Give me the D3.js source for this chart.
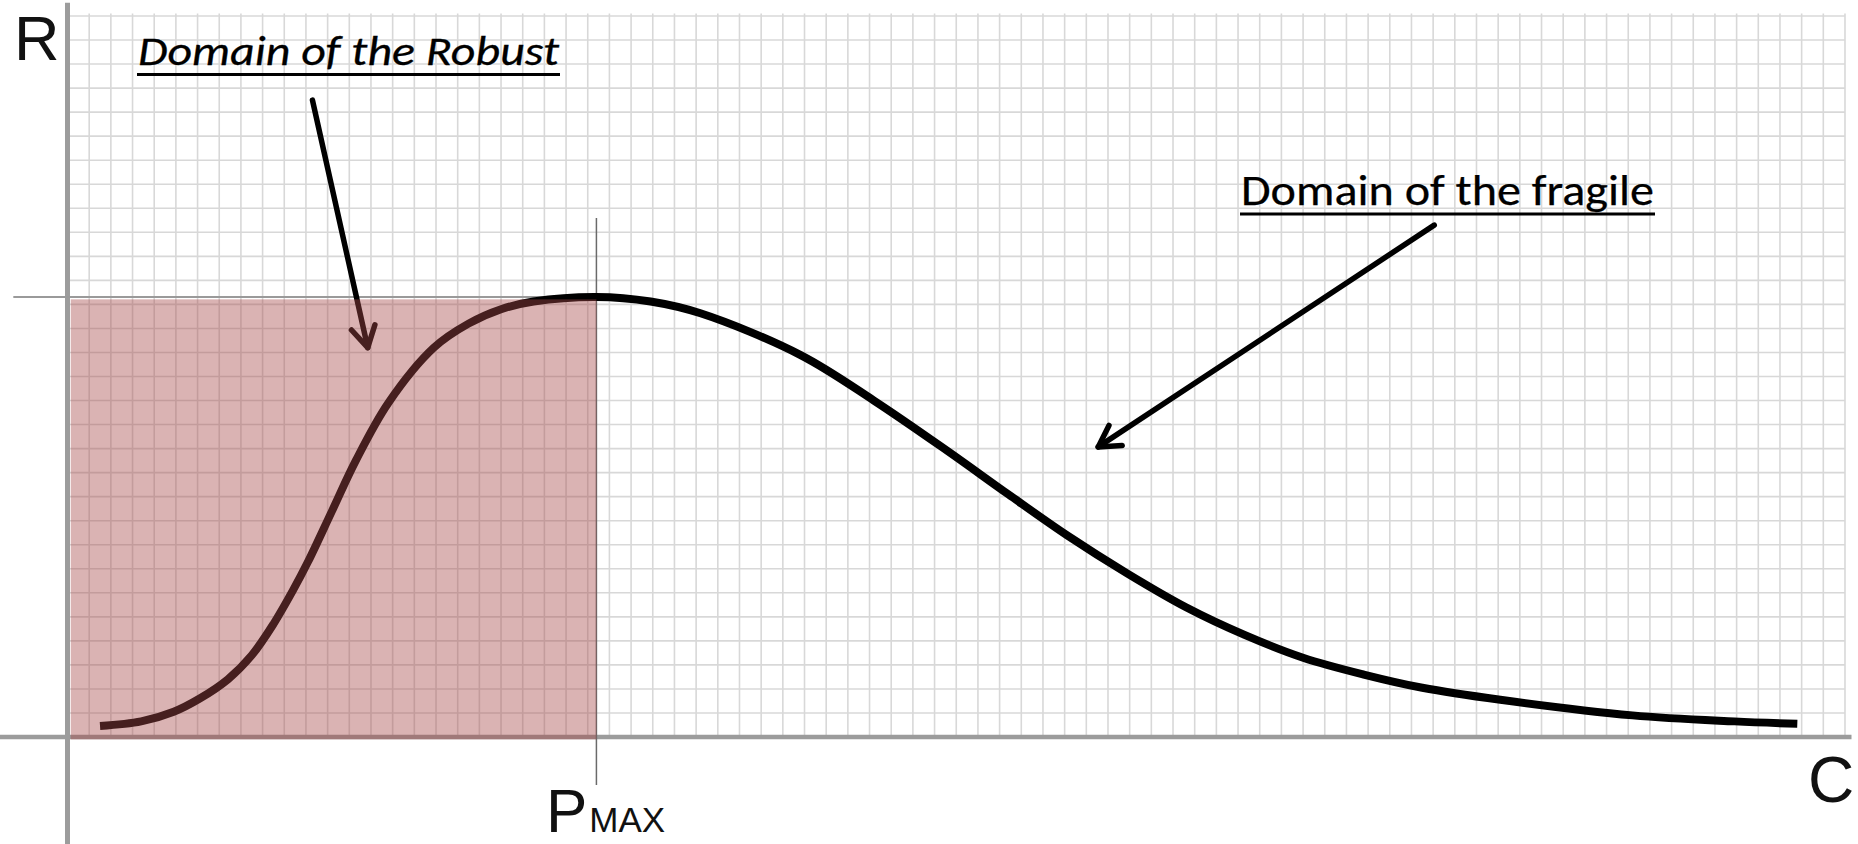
<!DOCTYPE html>
<html>
<head>
<meta charset="utf-8">
<script src="https://cdn.jsdelivr.net/npm/d3@7"></script>
<style>
  body { margin: 0; background: #fff; }
  svg { display: block; }
</style>
</head>
<body>
<script>
// curve, in grid cells (C across, R up)
var curveC = [1.5, 3.4, 4.9, 6.1, 7.4, 8.5, 9.5, 10.4, 11.1, 12.2, 13.3, 14.8, 16.9, 18.5, 20.0, 21.5, 24.4,
  26.9, 29.2, 33.8, 37.2, 40.6, 43.4, 46.1, 48.9, 51.6, 54.3, 57.0, 59.8, 62.5, 66.1, 72.2, 76.9, 79.8];
var curveR = [0.46, 0.65, 1.05, 1.6, 2.4, 3.4, 4.7, 6.1, 7.3, 9.4, 11.5, 13.9, 16.2, 17.2, 17.8, 18.12, 18.31,
  18.12, 17.63, 15.9, 14.0, 11.9, 10.1, 8.4, 6.8, 5.4, 4.25, 3.3, 2.6, 2.05, 1.55, 0.9, 0.65, 0.55];

var pMax = 24.4;
var rMax = 18.31;

var axisLabels = ["R", "C"];
var peakLabel = ["P", "MAX"];
var domainLabels = ["Domain of the Robust", "Domain of the fragile"];

var width = 1858,
  height = 844;

var svg = d3.select("body").append("svg").attr("width", width).attr("height", height);
svg.append("rect").attr("width", width).attr("height", height).attr("fill", "#fff");

var x = d3.scaleLinear().domain([0, 82]).range([67.5, 1845]);
var y = d3.scaleLinear().domain([0, 30]).range([737, 16]);

// graph paper
var grid = svg.append("g").attr("class", "grid")
  .attr("stroke", "#d8d8d8").attr("stroke-width", 1.6);
grid.selectAll("line.v")
  .data(d3.range(1, 83))
  .enter().append("line")
  .attr("class", "v")
  .attr("x1", function (d) { return x(d); })
  .attr("x2", function (d) { return x(d); })
  .attr("y1", y(30.1))
  .attr("y2", y(0));
grid.selectAll("line.h")
  .data(d3.range(0, 30))
  .enter().append("line")
  .attr("class", "h")
  .attr("x1", x(0))
  .attr("x2", x(82))
  .attr("y1", function (d) { return y(30 - d); })
  .attr("y2", function (d) { return y(30 - d); });

// axes
svg.append("line")
  .attr("x1", x(0)).attr("x2", x(0))
  .attr("y1", y(30.55)).attr("y2", height)
  .attr("stroke", "#9c9c9c").attr("stroke-width", 5);
svg.append("line")
  .attr("x1", 0).attr("x2", x(82.3))
  .attr("y1", y(0)).attr("y2", y(0))
  .attr("stroke", "#9c9c9c").attr("stroke-width", 4.5);

// ticks at the peak
svg.append("line")
  .attr("x1", x(-2.5)).attr("x2", x(pMax))
  .attr("y1", y(rMax)).attr("y2", y(rMax))
  .attr("stroke", "#9a9a9a").attr("stroke-width", 2);
svg.append("line")
  .attr("x1", x(pMax)).attr("x2", x(pMax))
  .attr("y1", y(21.6)).attr("y2", y(-2))
  .attr("stroke", "#6a6a6a").attr("stroke-width", 1.5);

// the curve
var points = curveC.map(function (c, i) { return [c, curveR[i]]; });
var line = d3.line()
  .x(function (d) { return x(d[0]); })
  .y(function (d) { return y(d[1]); })
  .curve(d3.curveCatmullRom.alpha(0.5));
svg.append("path")
  .datum(points)
  .attr("d", line)
  .attr("fill", "none")
  .attr("stroke", "#000")
  .attr("stroke-width", 8);

// arrows
function arrow(from, to) {
  var x1 = x(from[0]), y1 = y(from[1]), x2 = x(to[0]), y2 = y(to[1]);
  var a = Math.atan2(y1 - y2, x1 - x2);
  var len = 24;
  var g = svg.append("g")
    .attr("stroke", "#000")
    .attr("stroke-width", 5.5)
    .attr("stroke-linecap", "round")
    .attr("fill", "none");
  g.append("line").attr("x1", x1).attr("y1", y1).attr("x2", x2).attr("y2", y2);
  g.append("path").attr("d",
    "M" + (x2 + len * Math.cos(a - Math.PI / 6)) + "," + (y2 + len * Math.sin(a - Math.PI / 6)) +
    "L" + x2 + "," + y2 +
    "L" + (x2 + len * Math.cos(a + Math.PI / 6)) + "," + (y2 + len * Math.sin(a + Math.PI / 6)))
    .attr("stroke-linejoin", "round");
}
arrow([11.3, 26.5], [13.85, 16.2]);
arrow([63.05, 21.3], [47.55, 12.07]);

// shaded robust domain, laid over the curve
svg.append("rect")
  .attr("x", x(0.15))
  .attr("y", y(rMax - 0.1))
  .attr("width", x(pMax) - x(0.15))
  .attr("height", y(-0.1) - y(rMax - 0.1))
  .attr("fill", "rgb(168,73,73)")
  .attr("fill-opacity", 0.42);

// labels
var sans = "'Liberation Sans', Arial, sans-serif";
var cal = "Carlito, Calibri, Lato, sans-serif";

svg.append("text")
  .attr("x", 14).attr("y", 60)
  .attr("font-family", sans).attr("font-size", 63)
  .attr("fill", "#111")
  .text(axisLabels[0]);
svg.append("text")
  .attr("x", 1808).attr("y", 802)
  .attr("font-family", sans).attr("font-size", 64)
  .attr("fill", "#111")
  .text(axisLabels[1]);

var pm = svg.append("text")
  .attr("x", 546).attr("y", 832)
  .attr("font-family", sans)
  .attr("fill", "#111");
pm.append("tspan").attr("font-size", 62).text(peakLabel[0]);
pm.append("tspan").attr("font-size", 35).attr("dx", 2).text(peakLabel[1]);

svg.append("text")
  .attr("x", 138).attr("y", 65)
  .attr("font-family", cal).attr("font-style", "italic").attr("font-size", 42)
  .attr("textLength", 421).attr("lengthAdjust", "spacingAndGlyphs")
  .attr("fill", "#000").attr("stroke", "#000").attr("stroke-width", 0.3)
  .text(domainLabels[0]);
svg.append("line")
  .attr("x1", 137).attr("x2", 560).attr("y1", 74.5).attr("y2", 74.5)
  .attr("stroke", "#000").attr("stroke-width", 3);

svg.append("text")
  .attr("x", 1241).attr("y", 205)
  .attr("font-family", cal).attr("font-size", 43)
  .attr("textLength", 413).attr("lengthAdjust", "spacingAndGlyphs")
  .attr("fill", "#000").attr("stroke", "#000").attr("stroke-width", 0.25)
  .text(domainLabels[1]);
svg.append("line")
  .attr("x1", 1240).attr("x2", 1655).attr("y1", 214).attr("y2", 214)
  .attr("stroke", "#000").attr("stroke-width", 3);
</script>
</body>
</html>
